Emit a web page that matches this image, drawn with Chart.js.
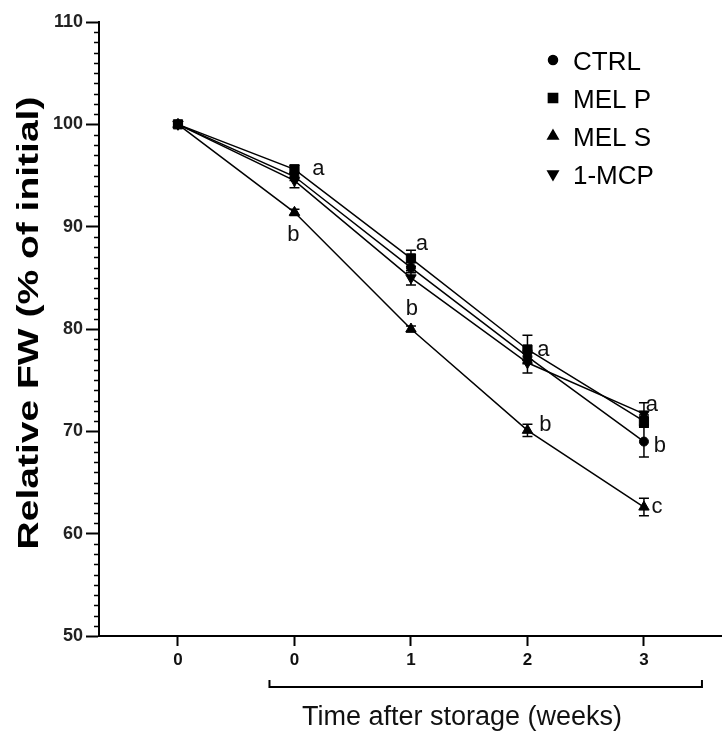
<!DOCTYPE html>
<html>
<head>
<meta charset="utf-8">
<title>Relative FW</title>
<script src="https://cdn.jsdelivr.net/npm/chart.js@4.4.1/dist/chart.umd.min.js"></script>
<style>
  html, body { margin: 0; padding: 0; background: #fff; overflow: hidden; }
  #wrap { width: 722px; height: 731px; position: relative; }
  #myChart { display: block; }
</style>
</head>
<body>
<div id="wrap"><canvas id="myChart"></canvas></div>
<script>
// x positions: initial point, then weeks 0-3 after storage
var weeks = [0, 1, 2, 3, 4];
var xTickLabels = ["0", "0", "1", "2", "3"];

var seriesNames = ["CTRL", "MEL P", "MEL S", "1-MCP"];
var ctrlValues = [100, 94.9, 86.0, 77.3, 69.0];
var melPValues = [100, 95.6, 86.9, 78.0, 71.0];
var melSValues = [100, 91.4, 80.0, 70.1, 62.6];
var mcpValues = [100, 94.5, 85.0, 76.7, 71.7];

// standard errors
var ctrlErr = [0, 0.4, 0.5, 0.6, 1.5];
var melPErr = [0, 0.4, 0.8, 1.4, 0.6];
var melSErr = [0, 0.3, 0.3, 0.6, 0.85];
var mcpErr = [0, 0.7, 0.7, 1.0, 1.1];

var yTicks = [50, 60, 70, 80, 90, 100, 110];

// significance letters: text, week index, series they sit next to
var letterText = ["a", "b", "a", "b", "a", "b", "a", "b", "c"];
var letterWeek = [1, 1, 2, 2, 3, 3, 4, 4, 4];
var letterSeries = [1, 2, 1, 2, 1, 2, 3, 0, 2];

var seriesValues = [ctrlValues, melPValues, melSValues, mcpValues];
var seriesErrors = [ctrlErr, melPErr, melSErr, mcpErr];
var pointStyles = [
  { style: "circle", radius: 4.5, rotation: 0 },
  { style: "rect", radius: 6.5, rotation: 0 },
  { style: "triangle", radius: 6, rotation: 0 },
  { style: "triangle", radius: 6, rotation: 180 },
];

var fontFamily = "'Liberation Sans', Arial, Helvetica, sans-serif";

function drawMarker(ctx, st, x, y) {
  if (Chart.helpers && Chart.helpers.drawPoint) {
    Chart.helpers.drawPoint(ctx, { pointStyle: st.style, radius: st.radius, rotation: st.rotation, borderWidth: 1 }, x, y);
    ctx.fill();
    return;
  }
  ctx.beginPath();
  ctx.arc(x, y, st.radius, 0, Math.PI * 2);
  ctx.fill();
}

var extrasPlugin = {
  id: "extras",
  afterDatasetsDraw: function (chart) {
    var ctx = chart.ctx;
    var xs = chart.scales.x;
    var ys = chart.scales.y;

    ctx.save();
    ctx.strokeStyle = "#000";
    ctx.lineWidth = 1.5;

    // error bars
    seriesValues.forEach(function (vals, i) {
      vals.forEach(function (v, j) {
        var e = seriesErrors[i][j];
        if (!e) return;
        var px = xs.getPixelForValue(weeks[j]);
        var top = ys.getPixelForValue(v + e);
        var bot = ys.getPixelForValue(v - e);
        ctx.beginPath();
        ctx.moveTo(px, top);
        ctx.lineTo(px, bot);
        ctx.moveTo(px - 5, top);
        ctx.lineTo(px + 5, top);
        ctx.moveTo(px - 5, bot);
        ctx.lineTo(px + 5, bot);
        ctx.stroke();
      });
    });

    // letters beside the points
    var letterOffsets = [[24, 0], [-1, 23], [11, -14], [1, -20], [16, 0], [18, -5], [8, -9], [16, 4], [13, 0]];
    ctx.fillStyle = "#111";
    ctx.font = "22px " + fontFamily;
    ctx.textAlign = "center";
    ctx.textBaseline = "middle";
    letterText.forEach(function (t, k) {
      var w = letterWeek[k];
      var v = seriesValues[letterSeries[k]][w];
      var px = xs.getPixelForValue(weeks[w]) + letterOffsets[k][0];
      var py = ys.getPixelForValue(v) + letterOffsets[k][1];
      ctx.fillText(t, px, py);
    });
    ctx.restore();
  },
  afterDraw: function (chart) {
    var ctx = chart.ctx;
    var xs = chart.scales.x;
    var ys = chart.scales.y;
    ctx.save();

    // minor ticks on the y axis, every unit
    ctx.strokeStyle = "#000";
    ctx.lineWidth = 1.5;
    ctx.beginPath();
    for (var v = ys.min + 1; v < ys.max; v++) {
      if (v % 10 === 0) continue;
      var py = Math.round(ys.getPixelForValue(v)) + 0.5;
      ctx.moveTo(ys.right - 5, py);
      ctx.lineTo(ys.right, py);
    }
    ctx.stroke();

    // legend
    ctx.fillStyle = "#000";
    ctx.font = "26px " + fontFamily;
    ctx.textAlign = "left";
    ctx.textBaseline = "alphabetic";
    seriesNames.forEach(function (name, i) {
      var rowY = 60 + i * 38;
      drawMarker(ctx, pointStyles[i], 553, rowY);
      ctx.fillText(name, 573, rowY + 10);
    });

    // bracket under the storage weeks
    var bx1 = xs.getPixelForValue(weeks[1]) - 25;
    var bx2 = xs.getPixelForValue(weeks[4]) + 58;
    ctx.lineWidth = 2;
    ctx.beginPath();
    ctx.moveTo(bx1, 680);
    ctx.lineTo(bx1, 687);
    ctx.lineTo(bx2, 687);
    ctx.lineTo(bx2, 680);
    ctx.stroke();

    // x title
    ctx.fillStyle = "#111";
    ctx.font = "27px " + fontFamily;
    ctx.textAlign = "center";
    ctx.fillText("Time after storage (weeks)", 462, 725);

    // y title (stretched along its baseline)
    ctx.translate(38, 323);
    ctx.rotate(-Math.PI / 2);
    ctx.scale(1.3, 1);
    ctx.font = "bold 30px " + fontFamily;
    ctx.fillStyle = "#000";
    ctx.fillText("Relative FW (% of initial)", 0, 0);
    ctx.restore();
  },
};

var datasets = seriesNames.map(function (name, i) {
  return {
    label: name,
    data: weeks.map(function (w, j) {
      return { x: w, y: seriesValues[i][j] };
    }),
    borderColor: "#000",
    backgroundColor: "#000",
    borderWidth: 1.5,
    pointStyle: pointStyles[i].style,
    pointRadius: pointStyles[i].radius,
    pointRotation: pointStyles[i].rotation,
    pointBorderWidth: 1,
    tension: 0,
    clip: false,
  };
});

var ctx = document.getElementById("myChart").getContext("2d");
new Chart(ctx, {
  type: "line",
  data: { datasets: datasets },
  options: {
    responsive: true,
    maintainAspectRatio: false,
    animation: false,
    layout: { autoPadding: false, padding: { top: 22, left: 0, right: 0, bottom: 0 } },
    plugins: {
      legend: { display: false },
      tooltip: { enabled: false },
    },
    scales: {
      x: {
        type: "linear",
        min: -0.678,
        max: 4.67,
        afterBuildTicks: function (scale) {
          scale.ticks = weeks.map(function (w) {
            return { value: w };
          });
        },
        afterFit: function (scale) {
          scale.height = 95;
        },
        ticks: {
          autoSkip: false,
          maxRotation: 0,
          padding: 4,
          color: "#111",
          font: { family: fontFamily, size: 17, weight: "bold" },
          callback: function (value) {
            return xTickLabels[weeks.indexOf(value)];
          },
        },
        grid: {
          drawOnChartArea: false,
          drawTicks: true,
          tickLength: 10,
          tickWidth: 2,
          tickColor: "#000",
        },
        border: { display: true, color: "#000", width: 2 },
      },
      y: {
        min: yTicks[0],
        max: yTicks[yTicks.length - 1],
        afterBuildTicks: function (scale) {
          scale.ticks = yTicks.map(function (v) {
            return { value: v };
          });
        },
        afterFit: function (scale) {
          scale.width = 99;
        },
        ticks: {
          padding: 3,
          color: "#222",
          font: { family: fontFamily, size: 18, weight: "bold" },
        },
        grid: {
          drawOnChartArea: false,
          drawTicks: true,
          tickLength: 13,
          tickWidth: 2,
          tickColor: "#000",
        },
        border: { display: true, color: "#000", width: 2 },
      },
    },
  },
  plugins: [extrasPlugin],
});
</script>
</body>
</html>
